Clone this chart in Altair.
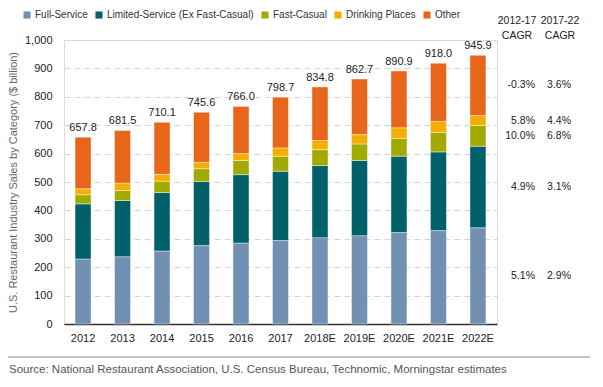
import altair as alt
import pandas as pd

years = ["2012", "2013", "2014", "2015", "2016", "2017", "2018E", "2019E", "2020E", "2021E", "2022E"]
categories = ["Full-Service", "Limited-Service (Ex Fast-Casual)", "Fast-Casual", "Drinking Places", "Other"]
colors = ["#7290B4", "#00616A", "#A2AA00", "#F4AE00", "#E8661A"]

full_service = [229, 237, 257, 276, 285, 294, 304, 311, 322, 329, 339]
limited_service = [194, 198, 206, 226, 241, 244, 254, 265, 269, 277, 287]
fast_casual = [32, 35, 40, 45, 50, 53, 56, 58, 63, 69, 73]
drinking = [21, 26, 24, 22, 24, 29, 32, 33, 37, 38, 35]
other = [181.8, 185.5, 183.1, 176.6, 166.0, 178.7, 188.8, 195.7, 199.9, 205.0, 211.9]
totals = [657.8, 681.5, 710.1, 745.6, 766.0, 798.7, 834.8, 862.7, 890.9, 918.0, 945.9]

cagr_2012_17 = ["5.1%", "4.9%", "10.0%", "5.8%", "-0.3%"]
cagr_2017_22 = ["2.9%", "3.1%", "6.8%", "4.4%", "3.6%"]

FONT = "Liberation Sans, Arial, sans-serif"

series = [full_service, limited_service, fast_casual, drinking, other]
rows = []
for ci, (cat, vals) in enumerate(zip(categories, series)):
    for yr, v in zip(years, vals):
        rows.append({"year": yr, "category": cat, "value": v, "order": ci})
df = pd.DataFrame(rows)
df_tot = pd.DataFrame({"year": years, "total": totals})

# CAGR label heights: midpoints of the last bar's segments
last = [s[-1] for s in series]
mids = []
acc = 0
for v in last:
    mids.append(acc + v / 2)
    acc += v
df_cagr = pd.DataFrame({"category": categories, "c1": cagr_2012_17, "c2": cagr_2017_22, "mid": mids})

x_axis = alt.Axis(labelAngle=0, ticks=False, domainColor="#333333", domainWidth=1.5,
                  labelFont=FONT, labelFontSize=11, labelColor="#222222", labelPadding=8)
x_scale = alt.Scale(paddingInner=0.595, paddingOuter=0.28)
y_scale = alt.Scale(domain=[0, 1000], nice=False)
y_title = "U.S. Restaurant Industry Sales by Category ($ billion)"
y_axis = alt.Axis(values=list(range(0, 1001, 100)), format=",d", domain=False, ticks=False,
                  labelOverlap=False,
                  grid=True, gridDash=[6, 4], gridColor="#d4d4d4", gridWidth=1,
                  labelFont=FONT, labelFontSize=11, labelColor="#222222", labelPadding=12,
                  titleFont=FONT, titleFontSize=11, titleFontWeight="normal", titleColor="#666666",
                  titleX=-46)

bars = alt.Chart(df).mark_bar(stroke="white", strokeWidth=0.6, strokeOpacity=0.7).encode(
    x=alt.X("year:N", sort=years, title=None, scale=x_scale, axis=x_axis),
    y=alt.Y("value:Q", stack="zero", scale=y_scale, title=y_title, axis=y_axis),
    color=alt.Color("category:N", sort=categories, scale=alt.Scale(domain=categories, range=colors),
                    legend=alt.Legend(title=None, orient="none", direction="horizontal", legendX=-42, legendY=-30,
                                      symbolType="square", symbolSize=50, symbolStrokeWidth=0,
                                      labelFont=FONT, labelFontSize=10, labelColor="#333333", labelLimit=300,
                                      columnPadding=6, symbolOffset=0, labelOffset=3)),
    order=alt.Order("order:Q", sort="ascending"),
)

tot_text = alt.Chart(df_tot).mark_text(dy=-9, font=FONT, fontSize=11, color="#222222").encode(
    x=alt.X("year:N", sort=years, title=None, scale=x_scale, axis=x_axis),
    y=alt.Y("total:Q", scale=y_scale, title=y_title, axis=y_axis),
    text=alt.Text("total:Q", format=".1f"),
)

c1 = alt.Chart(df_cagr).mark_text(align="right", font=FONT, fontSize=10.5, color="#222222").encode(
    x=alt.value(471), y=alt.Y("mid:Q", scale=y_scale, title=y_title, axis=y_axis), text="c1:N")
c2 = alt.Chart(df_cagr).mark_text(align="center", font=FONT, fontSize=10.5, color="#222222").encode(
    x=alt.value(495), y=alt.Y("mid:Q", scale=y_scale, title=y_title, axis=y_axis), text="c2:N")

hdr_df = pd.DataFrame({"t": ["x"]})
h1 = alt.Chart(hdr_df).mark_text(align="center", font=FONT, fontSize=10.5, color="#222222", lineHeight=15,
                                  baseline="middle").encode(
    x=alt.value(453), y=alt.value(-19), text=alt.value(["2012-17", "CAGR"]))
h2 = alt.Chart(hdr_df).mark_text(align="center", font=FONT, fontSize=10.5, color="#222222", lineHeight=15,
                                  baseline="middle").encode(
    x=alt.value(496), y=alt.value(-19), text=alt.value(["2017-22", "CAGR"]))

sep = alt.Chart(hdr_df).mark_rule(color="#888888", strokeWidth=1).encode(
    x=alt.value(-56), x2=alt.value(526), y=alt.value(317))
src = alt.Chart(hdr_df).mark_text(align="left", baseline="middle", font=FONT, fontSize=11.5, color="#555555").encode(
    x=alt.value(-55), y=alt.value(330),
    text=alt.value("Source: National Restaurant Association, U.S. Census Bureau, Technomic, Morningstar estimates"))

chart = alt.layer(bars, tot_text, c1, c2, h1, h2, sep, src).properties(
    width=433, height=284,
    autosize=alt.AutoSizeParams(type="none"),
    padding={"left": 56, "top": 32, "right": 98, "bottom": 62},
).configure_view(stroke=None).configure(background="white")

chart.save("out.html", embed_options={"renderer": "svg", "actions": False})
